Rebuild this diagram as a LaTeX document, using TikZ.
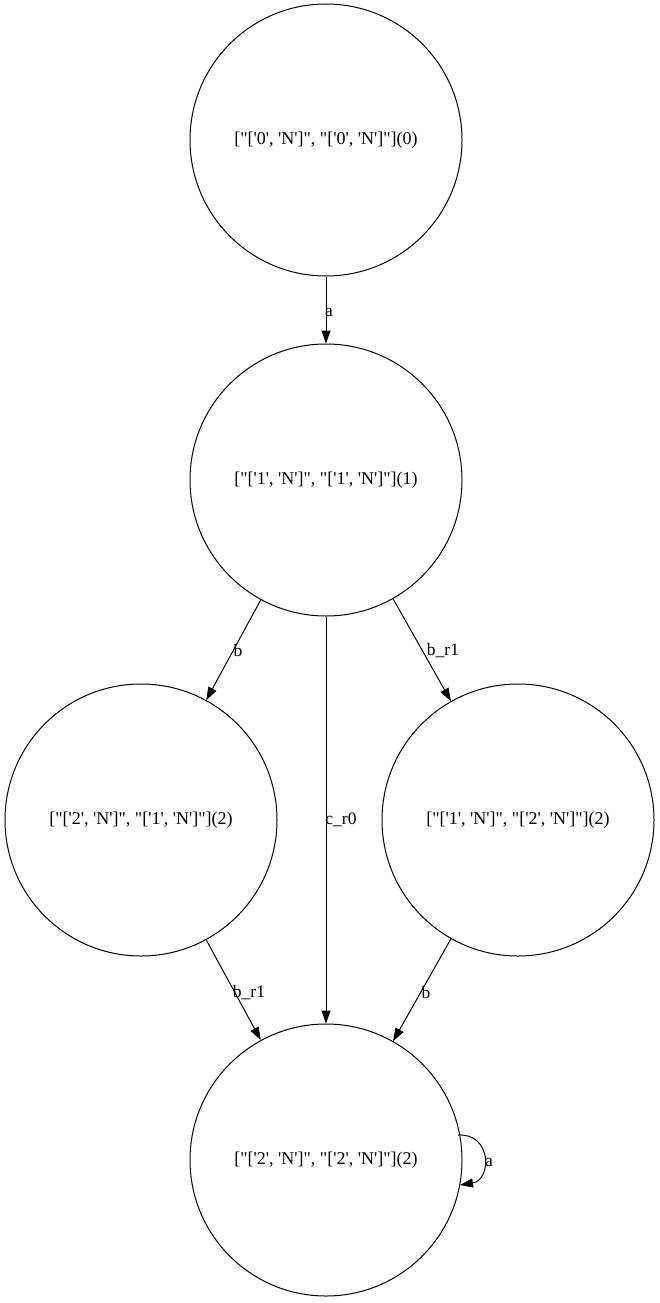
\documentclass[tikz,border=0pt]{standalone}
\usepackage{fontspec}
\setmainfont{Liberation Serif}[Ligatures=TeXOff]
\usetikzlibrary{arrows.meta}
\begin{document}
\begin{tikzpicture}[x=1pt,y=-1pt,
  state/.style={draw=black,circle,line width=1pt,minimum size=272pt,inner sep=0pt,font=\fontsize{18}{20}\selectfont},
  lbl/.style={inner sep=0pt,font=\fontsize{17.5}{20}\selectfont},
  edge/.style={draw=black,line width=1pt,-{Triangle[length=13pt,width=9pt]}}]
\useasboundingbox (0,0) rectangle (660,1303);
\node[state] (n0) at (326,140) {["['0', 'N']", "['0', 'N']"](0)};
\node[state] (n1) at (326,480) {["['1', 'N']", "['1', 'N']"](1)};
\node[state] (n2l) at (141,820) {["['2', 'N']", "['1', 'N']"](2)};
\node[state] (n2r) at (518,820) {["['1', 'N']", "['2', 'N']"](2)};
\node[state] (n3) at (326,1160) {["['2', 'N']", "['2', 'N']"](2)};
\draw[edge] (n0) -- (n1);
\draw[edge] (n1) -- (n2l);
\draw[edge] (n1) -- (n3);
\draw[edge] (n1) -- (n2r);
\draw[edge] (n2l) -- (n3);
\draw[edge] (n2r) -- (n3);
\coordinate (ls) at (458,1135);
\coordinate (le) at (460,1185);
\draw[edge] (ls) .. controls (492,1133) and (492,1180) .. (le);
\node[lbl] (la) at (329,312) {a};
\node[lbl] (lb) at (238,651) {b};
\node[lbl] (lbr) at (443,651) {b\_r1};
\node[lbl] (lc) at (341,820) {c\_r0};
\node[lbl] (lbr2) at (249,993) {b\_r1};
\node[lbl] (lb2) at (426,993) {b};
\node[lbl] (la2) at (489,1162) {a};
\end{tikzpicture}
\end{document}
